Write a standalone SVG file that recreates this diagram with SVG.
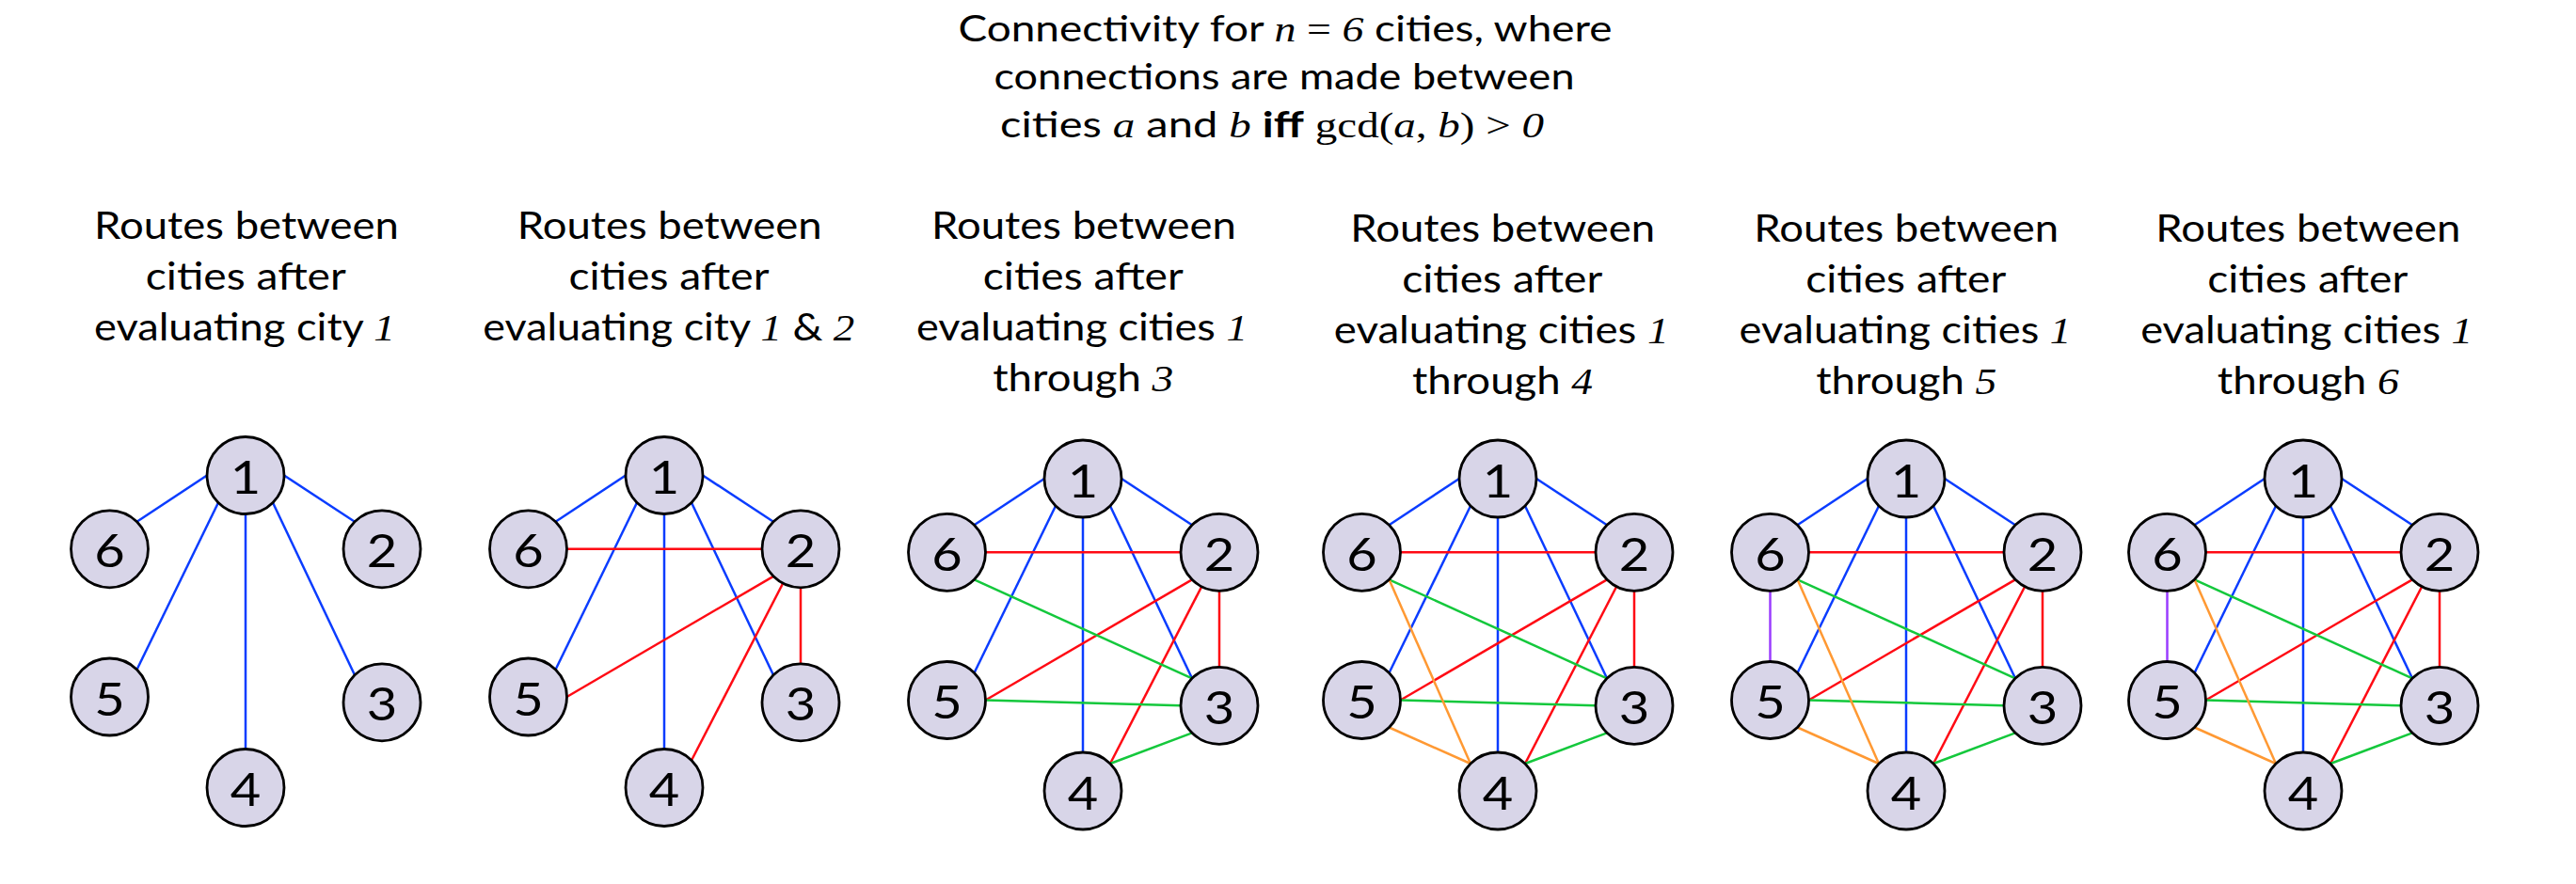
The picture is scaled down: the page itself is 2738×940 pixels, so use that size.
<svg xmlns="http://www.w3.org/2000/svg" width="2738" height="940" viewBox="0 0 2738 940">
<style>
.t{font-family:Lato,"Liberation Sans",sans-serif;font-size:38.5px;fill:#000;text-anchor:middle}
.pt{font-family:Lato,"Liberation Sans",sans-serif;font-size:40px;fill:#000;text-anchor:middle}
.mi{font-family:"Liberation Serif",serif;font-style:italic}
.mr{font-family:"Liberation Serif",serif}
.b{font-weight:bold}
.node circle{fill:#d8d5e8;stroke:#000;stroke-width:2.8}
.node text{font-family:Lato,"Liberation Sans",sans-serif;font-size:49px;fill:#000;text-anchor:middle}
.e line{stroke-width:2.5;fill:none}
.bl{stroke:#0a3cff}
.rd{stroke:#ff0a14}
.gr{stroke:#14c83c}
.or{stroke:#ff9933}
.pu{stroke:#9a3cff}
</style>
<rect width="2738" height="940" fill="#fff"/>
<g id="title">
<text class="t" x="1366" y="44" textLength="695" lengthAdjust="spacingAndGlyphs">Connectivity for <tspan class="mi">n</tspan><tspan class="mr"> = </tspan><tspan class="mi">6</tspan> cities, where</text>
<text class="t" x="1365" y="95" textLength="617" lengthAdjust="spacingAndGlyphs">connections are made between</text>
<text class="t" x="1352" y="146" textLength="578" lengthAdjust="spacingAndGlyphs">cities <tspan class="mi">a</tspan> and <tspan class="mi">b</tspan> <tspan class="b">iff</tspan> <tspan class="mr">gcd(</tspan><tspan class="mi">a</tspan><tspan class="mr">, </tspan><tspan class="mi">b</tspan><tspan class="mr">) &gt; </tspan><tspan class="mi">0</tspan></text>
</g>
<g id="panel-titles">
<text class="pt" x="262" y="254" textLength="324" lengthAdjust="spacingAndGlyphs">Routes between</text>
<text class="pt" x="261.3" y="308" textLength="213" lengthAdjust="spacingAndGlyphs">cities after</text>
<text class="pt" x="260" y="362" textLength="320" lengthAdjust="spacingAndGlyphs">evaluating city <tspan class="mi">1</tspan></text>
<text class="pt" x="711.7" y="254" textLength="324" lengthAdjust="spacingAndGlyphs">Routes between</text>
<text class="pt" x="711" y="308" textLength="213" lengthAdjust="spacingAndGlyphs">cities after</text>
<text class="pt" x="710.8" y="362" textLength="395" lengthAdjust="spacingAndGlyphs">evaluating city <tspan class="mi">1</tspan> &amp; <tspan class="mi">2</tspan></text>
<text class="pt" x="1152" y="254" textLength="324" lengthAdjust="spacingAndGlyphs">Routes between</text>
<text class="pt" x="1151.3" y="308" textLength="213" lengthAdjust="spacingAndGlyphs">cities after</text>
<text class="pt" x="1150" y="362" textLength="352" lengthAdjust="spacingAndGlyphs">evaluating cities <tspan class="mi">1</tspan></text>
<text class="pt" x="1151.3" y="416" textLength="192" lengthAdjust="spacingAndGlyphs">through <tspan class="mi">3</tspan></text>
<text class="pt" x="1597.2" y="257" textLength="324" lengthAdjust="spacingAndGlyphs">Routes between</text>
<text class="pt" x="1596.7" y="311" textLength="213" lengthAdjust="spacingAndGlyphs">cities after</text>
<text class="pt" x="1595.8" y="365" textLength="356" lengthAdjust="spacingAndGlyphs">evaluating cities <tspan class="mi">1</tspan></text>
<text class="pt" x="1597" y="419" textLength="192" lengthAdjust="spacingAndGlyphs">through <tspan class="mi">4</tspan></text>
<text class="pt" x="2026.2" y="257" textLength="324" lengthAdjust="spacingAndGlyphs">Routes between</text>
<text class="pt" x="2025.7" y="311" textLength="213" lengthAdjust="spacingAndGlyphs">cities after</text>
<text class="pt" x="2025" y="365" textLength="353" lengthAdjust="spacingAndGlyphs">evaluating cities <tspan class="mi">1</tspan></text>
<text class="pt" x="2026.3" y="419" textLength="192" lengthAdjust="spacingAndGlyphs">through <tspan class="mi">5</tspan></text>
<text class="pt" x="2453.3" y="257" textLength="324" lengthAdjust="spacingAndGlyphs">Routes between</text>
<text class="pt" x="2452.7" y="311" textLength="213" lengthAdjust="spacingAndGlyphs">cities after</text>
<text class="pt" x="2451.7" y="365" textLength="353" lengthAdjust="spacingAndGlyphs">evaluating cities <tspan class="mi">1</tspan></text>
<text class="pt" x="2453.3" y="419" textLength="193" lengthAdjust="spacingAndGlyphs">through <tspan class="mi">6</tspan></text>
</g>
<g id="connectors" class="e">
<!-- panel 1 -->
<line class="bl" x1="220" y1="505.5" x2="145.5" y2="554.8"/>
<line class="bl" x1="302" y1="505.5" x2="377" y2="554.8"/>
<line class="bl" x1="232" y1="534.5" x2="145.5" y2="712"/>
<line class="bl" x1="261" y1="546.5" x2="261" y2="796.5"/>
<line class="bl" x1="290" y1="534.5" x2="377" y2="717.8"/>
<!-- panel 2 -->
<line class="bl" x1="665" y1="505.5" x2="590.5" y2="554.8"/>
<line class="bl" x1="747" y1="505.5" x2="822" y2="554.8"/>
<line class="bl" x1="677" y1="534.5" x2="590.5" y2="712"/>
<line class="bl" x1="706" y1="546.5" x2="706" y2="796.5"/>
<line class="bl" x1="735" y1="534.5" x2="822" y2="717.8"/>
<line class="rd" x1="810" y1="583.8" x2="602.5" y2="583.8"/>
<line class="rd" x1="822" y1="612.8" x2="602.5" y2="741"/>
<line class="rd" x1="735" y1="808.5" x2="851" y2="583.8"/>
<line class="rd" x1="851" y1="624.8" x2="851" y2="705.8"/>
<!-- panel 3 -->
<line class="bl" x1="1110" y1="509" x2="1035.5" y2="558.3"/>
<line class="bl" x1="1192" y1="509" x2="1267" y2="558.3"/>
<line class="bl" x1="1122" y1="538" x2="1035.5" y2="715.5"/>
<line class="bl" x1="1151" y1="550" x2="1151" y2="800"/>
<line class="bl" x1="1180" y1="538" x2="1267" y2="721.3"/>
<line class="rd" x1="1255" y1="587.3" x2="1047.5" y2="587.3"/>
<line class="rd" x1="1267" y1="616.3" x2="1047.5" y2="744.5"/>
<line class="rd" x1="1180" y1="812" x2="1296" y2="587.3"/>
<line class="rd" x1="1296" y1="628.3" x2="1296" y2="709.3"/>
<line class="gr" x1="1267" y1="721.3" x2="1035.5" y2="616.3"/>
<line class="gr" x1="1255" y1="750.3" x2="1047.5" y2="744.5"/>
<line class="gr" x1="1267" y1="779.3" x2="1180" y2="812"/>
<!-- panel 4 -->
<line class="bl" x1="1551" y1="509" x2="1476.5" y2="558.3"/>
<line class="bl" x1="1633" y1="509" x2="1708" y2="558.3"/>
<line class="bl" x1="1563" y1="538" x2="1476.5" y2="715.5"/>
<line class="bl" x1="1592" y1="550" x2="1592" y2="800"/>
<line class="bl" x1="1621" y1="538" x2="1708" y2="721.3"/>
<line class="rd" x1="1696" y1="587.3" x2="1488.5" y2="587.3"/>
<line class="rd" x1="1708" y1="616.3" x2="1488.5" y2="744.5"/>
<line class="rd" x1="1621" y1="812" x2="1737" y2="587.3"/>
<line class="rd" x1="1737" y1="628.3" x2="1737" y2="709.3"/>
<line class="gr" x1="1708" y1="721.3" x2="1476.5" y2="616.3"/>
<line class="gr" x1="1696" y1="750.3" x2="1488.5" y2="744.5"/>
<line class="gr" x1="1708" y1="779.3" x2="1621" y2="812"/>
<line class="or" x1="1563" y1="812" x2="1476.5" y2="616.3"/>
<line class="or" x1="1563" y1="812" x2="1476.5" y2="773.5"/>
<!-- panel 5 -->
<line class="bl" x1="1985" y1="509" x2="1910.5" y2="558.3"/>
<line class="bl" x1="2067" y1="509" x2="2142" y2="558.3"/>
<line class="bl" x1="1997" y1="538" x2="1910.5" y2="715.5"/>
<line class="bl" x1="2026" y1="550" x2="2026" y2="800"/>
<line class="bl" x1="2055" y1="538" x2="2142" y2="721.3"/>
<line class="rd" x1="2130" y1="587.3" x2="1922.5" y2="587.3"/>
<line class="rd" x1="2142" y1="616.3" x2="1922.5" y2="744.5"/>
<line class="rd" x1="2055" y1="812" x2="2171" y2="587.3"/>
<line class="rd" x1="2171" y1="628.3" x2="2171" y2="709.3"/>
<line class="gr" x1="2142" y1="721.3" x2="1910.5" y2="616.3"/>
<line class="gr" x1="2130" y1="750.3" x2="1922.5" y2="744.5"/>
<line class="gr" x1="2142" y1="779.3" x2="2055" y2="812"/>
<line class="or" x1="1997" y1="812" x2="1910.5" y2="616.3"/>
<line class="or" x1="1997" y1="812" x2="1910.5" y2="773.5"/>
<line class="pu" x1="1881.5" y1="628.3" x2="1881.5" y2="703.5"/>
<!-- panel 6 -->
<line class="bl" x1="2407" y1="509" x2="2332.5" y2="558.3"/>
<line class="bl" x1="2489" y1="509" x2="2564" y2="558.3"/>
<line class="bl" x1="2419" y1="538" x2="2332.5" y2="715.5"/>
<line class="bl" x1="2448" y1="550" x2="2448" y2="800"/>
<line class="bl" x1="2477" y1="538" x2="2564" y2="721.3"/>
<line class="rd" x1="2552" y1="587.3" x2="2344.5" y2="587.3"/>
<line class="rd" x1="2564" y1="616.3" x2="2344.5" y2="744.5"/>
<line class="rd" x1="2477" y1="812" x2="2593" y2="587.3"/>
<line class="rd" x1="2593" y1="628.3" x2="2593" y2="709.3"/>
<line class="gr" x1="2564" y1="721.3" x2="2332.5" y2="616.3"/>
<line class="gr" x1="2552" y1="750.3" x2="2344.5" y2="744.5"/>
<line class="gr" x1="2564" y1="779.3" x2="2477" y2="812"/>
<line class="or" x1="2419" y1="812" x2="2332.5" y2="616.3"/>
<line class="or" x1="2419" y1="812" x2="2332.5" y2="773.5"/>
<line class="pu" x1="2303.5" y1="628.3" x2="2303.5" y2="703.5"/>
</g>
<!-- nodes panel 1 -->
<g id="p1-c1" class="node"><circle cx="261" cy="505.5" r="41"/><text x="261" y="525" textLength="32.5" lengthAdjust="spacingAndGlyphs">1</text></g>
<g id="p1-c2" class="node"><circle cx="406" cy="583.8" r="41"/><text x="406" y="603.3" textLength="32.5" lengthAdjust="spacingAndGlyphs">2</text></g>
<g id="p1-c3" class="node"><circle cx="406" cy="746.8" r="41"/><text x="406" y="766.3" textLength="32.5" lengthAdjust="spacingAndGlyphs">3</text></g>
<g id="p1-c4" class="node"><circle cx="261" cy="837.5" r="41"/><text x="261" y="857" textLength="32.5" lengthAdjust="spacingAndGlyphs">4</text></g>
<g id="p1-c5" class="node"><circle cx="116.5" cy="741" r="41"/><text x="116.5" y="760.5" textLength="32.5" lengthAdjust="spacingAndGlyphs">5</text></g>
<g id="p1-c6" class="node"><circle cx="116.5" cy="583.8" r="41"/><text x="116.5" y="603.3" textLength="32.5" lengthAdjust="spacingAndGlyphs">6</text></g>
<!-- nodes panel 2 -->
<g id="p2-c1" class="node"><circle cx="706" cy="505.5" r="41"/><text x="706" y="525" textLength="32.5" lengthAdjust="spacingAndGlyphs">1</text></g>
<g id="p2-c2" class="node"><circle cx="851" cy="583.8" r="41"/><text x="851" y="603.3" textLength="32.5" lengthAdjust="spacingAndGlyphs">2</text></g>
<g id="p2-c3" class="node"><circle cx="851" cy="746.8" r="41"/><text x="851" y="766.3" textLength="32.5" lengthAdjust="spacingAndGlyphs">3</text></g>
<g id="p2-c4" class="node"><circle cx="706" cy="837.5" r="41"/><text x="706" y="857" textLength="32.5" lengthAdjust="spacingAndGlyphs">4</text></g>
<g id="p2-c5" class="node"><circle cx="561.5" cy="741" r="41"/><text x="561.5" y="760.5" textLength="32.5" lengthAdjust="spacingAndGlyphs">5</text></g>
<g id="p2-c6" class="node"><circle cx="561.5" cy="583.8" r="41"/><text x="561.5" y="603.3" textLength="32.5" lengthAdjust="spacingAndGlyphs">6</text></g>
<!-- nodes panel 3 -->
<g id="p3-c1" class="node"><circle cx="1151" cy="509" r="41"/><text x="1151" y="528.5" textLength="32.5" lengthAdjust="spacingAndGlyphs">1</text></g>
<g id="p3-c2" class="node"><circle cx="1296" cy="587.3" r="41"/><text x="1296" y="606.8" textLength="32.5" lengthAdjust="spacingAndGlyphs">2</text></g>
<g id="p3-c3" class="node"><circle cx="1296" cy="750.3" r="41"/><text x="1296" y="769.8" textLength="32.5" lengthAdjust="spacingAndGlyphs">3</text></g>
<g id="p3-c4" class="node"><circle cx="1151" cy="841" r="41"/><text x="1151" y="860.5" textLength="32.5" lengthAdjust="spacingAndGlyphs">4</text></g>
<g id="p3-c5" class="node"><circle cx="1006.5" cy="744.5" r="41"/><text x="1006.5" y="764" textLength="32.5" lengthAdjust="spacingAndGlyphs">5</text></g>
<g id="p3-c6" class="node"><circle cx="1006.5" cy="587.3" r="41"/><text x="1006.5" y="606.8" textLength="32.5" lengthAdjust="spacingAndGlyphs">6</text></g>
<!-- nodes panel 4 -->
<g id="p4-c1" class="node"><circle cx="1592" cy="509" r="41"/><text x="1592" y="528.5" textLength="32.5" lengthAdjust="spacingAndGlyphs">1</text></g>
<g id="p4-c2" class="node"><circle cx="1737" cy="587.3" r="41"/><text x="1737" y="606.8" textLength="32.5" lengthAdjust="spacingAndGlyphs">2</text></g>
<g id="p4-c3" class="node"><circle cx="1737" cy="750.3" r="41"/><text x="1737" y="769.8" textLength="32.5" lengthAdjust="spacingAndGlyphs">3</text></g>
<g id="p4-c4" class="node"><circle cx="1592" cy="841" r="41"/><text x="1592" y="860.5" textLength="32.5" lengthAdjust="spacingAndGlyphs">4</text></g>
<g id="p4-c5" class="node"><circle cx="1447.5" cy="744.5" r="41"/><text x="1447.5" y="764" textLength="32.5" lengthAdjust="spacingAndGlyphs">5</text></g>
<g id="p4-c6" class="node"><circle cx="1447.5" cy="587.3" r="41"/><text x="1447.5" y="606.8" textLength="32.5" lengthAdjust="spacingAndGlyphs">6</text></g>
<!-- nodes panel 5 -->
<g id="p5-c1" class="node"><circle cx="2026" cy="509" r="41"/><text x="2026" y="528.5" textLength="32.5" lengthAdjust="spacingAndGlyphs">1</text></g>
<g id="p5-c2" class="node"><circle cx="2171" cy="587.3" r="41"/><text x="2171" y="606.8" textLength="32.5" lengthAdjust="spacingAndGlyphs">2</text></g>
<g id="p5-c3" class="node"><circle cx="2171" cy="750.3" r="41"/><text x="2171" y="769.8" textLength="32.5" lengthAdjust="spacingAndGlyphs">3</text></g>
<g id="p5-c4" class="node"><circle cx="2026" cy="841" r="41"/><text x="2026" y="860.5" textLength="32.5" lengthAdjust="spacingAndGlyphs">4</text></g>
<g id="p5-c5" class="node"><circle cx="1881.5" cy="744.5" r="41"/><text x="1881.5" y="764" textLength="32.5" lengthAdjust="spacingAndGlyphs">5</text></g>
<g id="p5-c6" class="node"><circle cx="1881.5" cy="587.3" r="41"/><text x="1881.5" y="606.8" textLength="32.5" lengthAdjust="spacingAndGlyphs">6</text></g>
<!-- nodes panel 6 -->
<g id="p6-c1" class="node"><circle cx="2448" cy="509" r="41"/><text x="2448" y="528.5" textLength="32.5" lengthAdjust="spacingAndGlyphs">1</text></g>
<g id="p6-c2" class="node"><circle cx="2593" cy="587.3" r="41"/><text x="2593" y="606.8" textLength="32.5" lengthAdjust="spacingAndGlyphs">2</text></g>
<g id="p6-c3" class="node"><circle cx="2593" cy="750.3" r="41"/><text x="2593" y="769.8" textLength="32.5" lengthAdjust="spacingAndGlyphs">3</text></g>
<g id="p6-c4" class="node"><circle cx="2448" cy="841" r="41"/><text x="2448" y="860.5" textLength="32.5" lengthAdjust="spacingAndGlyphs">4</text></g>
<g id="p6-c5" class="node"><circle cx="2303.5" cy="744.5" r="41"/><text x="2303.5" y="764" textLength="32.5" lengthAdjust="spacingAndGlyphs">5</text></g>
<g id="p6-c6" class="node"><circle cx="2303.5" cy="587.3" r="41"/><text x="2303.5" y="606.8" textLength="32.5" lengthAdjust="spacingAndGlyphs">6</text></g>
</svg>
